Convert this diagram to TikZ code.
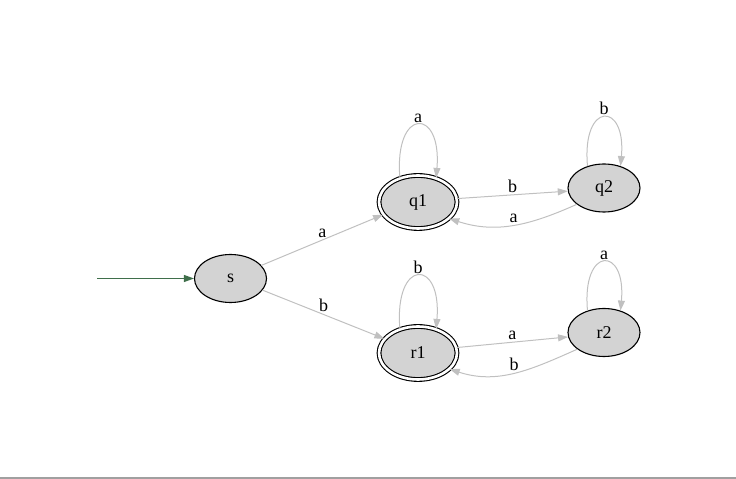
\documentclass[tikz,border=0pt]{standalone}
\usepackage{fontspec}
\setmainfont{Liberation Serif}
\usetikzlibrary{arrows.meta,shapes.geometric}
\definecolor{nodefill}{HTML}{D3D3D3}
\definecolor{edgegray}{HTML}{C0C0C0}
\definecolor{initgreen}{HTML}{3F6F4B}
\definecolor{rulegray}{HTML}{A0A0A0}
\begin{document}
\begin{tikzpicture}[x=1pt,y=1pt,
  font=\fontsize{18}{20}\selectfont,
  state/.style={ellipse, draw=black, line width=1.1pt, fill=nodefill,
    minimum width=72pt, minimum height=48pt, inner sep=0pt},
  accept/.style={state, double, double distance=2.6pt,
    minimum width=78pt, minimum height=53pt},
  edge/.style={draw=edgegray, line width=1pt,
    -{Triangle[length=10pt,width=7pt]}},
  lbl/.style={midway, above=1pt, inner sep=1pt}]
\useasboundingbox (0,0) rectangle (736,479);
\draw[rulegray, line width=1.5pt] (0,1.2) -- (736,1.2);

\node[state] (s) at (230.5,200.5) {s};
\node[accept] (q1) at (418,277) {q1};
\node[state] (q2) at (604,291) {q2};
\node[accept] (r1) at (418,126) {r1};
\node[state] (r2) at (604,146.5) {r2};

\coordinate (init) at (97,200.5);
\draw[initgreen, line width=1pt, -{Triangle[length=10pt,width=7pt]}] (init) -- (s);

\draw[edge] (s.23) -- node[lbl]{a} (q1.200);
\draw[edge] (s.-20) -- node[lbl]{b} (r1.157);
\draw[edge] (q1.5) -- node[lbl]{b} (q2.185);
\draw[edge] (q2.211) to[out=204,in=-18] node[lbl]{a} (q1.-28);
\draw[edge] (r1.8) -- node[lbl]{a} (r2.187);
\draw[edge] (r2.212) to[out=204,in=-18] node[lbl]{b} (r1.-27);

\draw[edge] (q1.127) .. controls +(-6,71) and +(6,71) .. node[lbl]{a} (q1.53);
\draw[edge] (q2.127) .. controls +(-6,65) and +(6,65) .. node[lbl]{b} (q2.53);
\draw[edge] (r1.127) .. controls +(-6,71) and +(6,71) .. node[lbl]{b} (r1.53);
\draw[edge] (r2.127) .. controls +(-6,65) and +(6,65) .. node[lbl]{a} (r2.53);
\end{tikzpicture}
\end{document}
